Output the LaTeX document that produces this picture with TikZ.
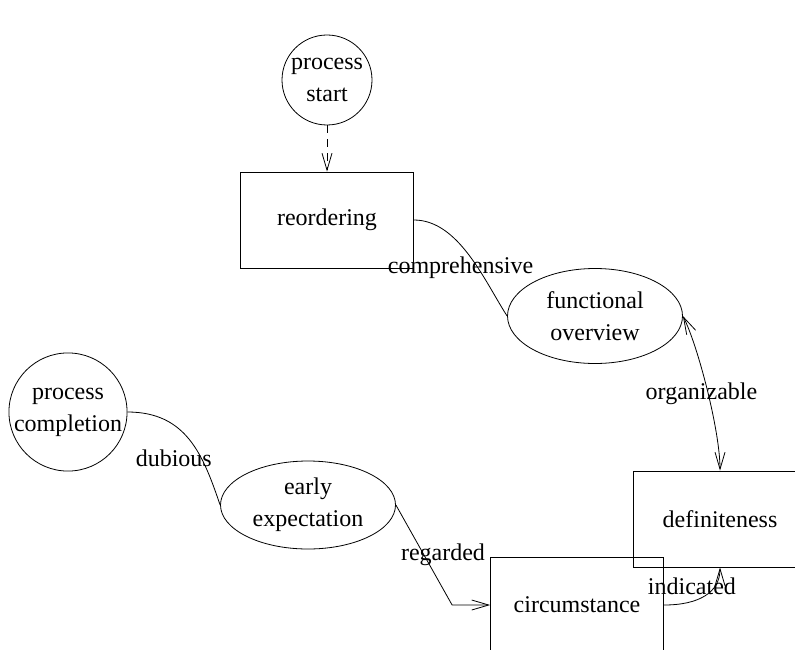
\documentclass[tikz,border=0pt]{standalone}
\usepackage{fontspec}
\setmainfont{Liberation Serif}
\usetikzlibrary{arrows.meta,shapes.geometric,calc}

\begin{document}
\begin{tikzpicture}[
  x=0.5pt,y=0.5pt,
  font=\fontsize{12}{16}\selectfont,
  term/.style={draw,circle,align=center,inner sep=0pt},
  task/.style={draw,rectangle,minimum width=86.5pt,minimum height=48pt,
               align=center},
  act/.style={draw,ellipse,minimum width=87.5pt,minimum height=47.5pt,
              align=center,inner sep=0pt},
  arr/.style={-{Straight Barb[length=8.5pt,width=5pt]}},
  darr/.style={{Straight Barb[length=8.5pt,width=5pt]}-{Straight Barb[length=8.5pt,width=5pt]}},
  lbl/.style={inner sep=0pt},
]
  \useasboundingbox (0,0) rectangle (795,649);

  % states and tasks
  \node[term,minimum size=45pt] (start) at (327,569) {process\\start};
  \node[task] (reord) at (327,429) {reordering};
  \node[act] (func) at (595,333) {functional\\overview};
  \node[task] (defin) at (720,130) {definiteness};
  \node[task] (circ) at (577,44) {circumstance};
  \node[term,minimum size=58pt] (compl) at (68,237) {process\\completion};
  \node[act,minimum height=44pt] (early) at (308,144) {early\\expectation};

  % connectors
  \draw[arr,dash pattern=on 4pt off 3pt] (start) -- (reord);
  \draw (reord.east) .. controls +(45,0) and +(-22,34) .. (func.west);
  \draw[darr] (func.east) .. controls +(15,-30) and +(0,40) .. (defin.north);
  \draw[arr] (circ.east) .. controls +(35,0) and +(0,-25) .. (defin.south);
  \draw (compl.east) .. controls +(59,0) and +(-17,50) .. (early.west);
  \draw[arr] (early.east) -- ($(circ.west)+(-38,0)$) -- (circ.west);

  % labels
  \node[lbl] (l1) at ($(reord.east)!0.5!(func.west)$) {comprehensive};
  \node[lbl] (l2) at ($(func.east)!0.5!(defin.north)$) {organizable};
  \node[lbl] (l3) at ($(circ.east)!0.5!(defin.south)$) {indicated};
  \node[lbl] (l4) at ($(compl.east)!0.5!(early.west)$) {dubious};
  \node[lbl] (l5) at ($(early.east)!0.5!(circ.west)$) {regarded};
\end{tikzpicture}
\end{document}
